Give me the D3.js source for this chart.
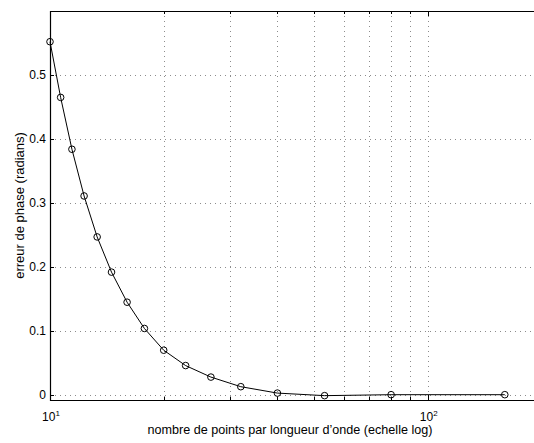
<!DOCTYPE html>
<html>
<head>
<meta charset="utf-8">
<script src="https://cdn.jsdelivr.net/npm/d3@7"></script>
<style>
    body { margin: 0; background: #fff; }
    text { font-family: "Liberation Sans", Arial, Helvetica, sans-serif; fill: #000; }
</style>
</head>
<body>
<div id="chart"></div>
<script>
// points par longueur d'onde / erreur de phase
const points_per_wavelength = [10, 10.67, 11.43, 12.31, 13.33, 14.55, 16, 17.78, 20, 22.86, 26.67, 32, 40, 53.33, 80, 160]
const phase_error = [0.552, 0.465, 0.384, 0.311, 0.247, 0.192, 0.145, 0.104, 0.070, 0.046, 0.028, 0.013, 0.003, -0.001, 0.0005, 0.0005]
const y_ticks = [0, 0.1, 0.2, 0.3, 0.4, 0.5]
const x_major_ticks = [10, 100]
const x_minor_ticks = [20, 30, 40, 50, 60, 70, 80, 90]
const x_label = "nombre de points par longueur d’onde (echelle log)"
const y_label = "erreur de phase (radians)"

const width = 534, height = 443
const plot_left = 50, plot_top = 11, plot_bottom = 400

const x = d3.scaleLog().domain([10, 200]).range([plot_left, plot_left + 1.30103 * 377.7])
const y = d3.scaleLinear().domain([-0.0078, 0.6]).range([plot_bottom, plot_top])
const plot_right = x.range()[1]

const svg = d3.select("#chart")
    .append("svg")
    .attr("width", width)
    .attr("height", height)

svg.append("rect").attr("width", width).attr("height", height).attr("fill", "#fff")

// grid, dotted like matlab
const grid = svg.append("g")
    .attr("stroke", "#8c8c8c")
    .attr("stroke-width", 1)
    .attr("stroke-dasharray", "1,4")
grid.selectAll(".vgrid")
    .data(x_minor_ticks.concat([100]))
    .enter()
    .append("line")
        .attr("x1", d => Math.round(x(d)) + 0.5)
        .attr("x2", d => Math.round(x(d)) + 0.5)
        .attr("y1", plot_top)
        .attr("y2", plot_bottom)
grid.selectAll(".hgrid")
    .data(y_ticks)
    .enter()
    .append("line")
        .attr("x1", plot_left)
        .attr("x2", plot_right)
        .attr("y1", d => Math.round(y(d)) + 0.5)
        .attr("y2", d => Math.round(y(d)) + 0.5)

// ticks pointing inward
const ticks = svg.append("g").attr("stroke", "#000").attr("stroke-width", 1)
x_minor_ticks.forEach(d => {
    let px = Math.round(x(d)) + 0.5
    ticks.append("line").attr("x1", px).attr("x2", px).attr("y1", plot_bottom).attr("y2", plot_bottom - 3)
    ticks.append("line").attr("x1", px).attr("x2", px).attr("y1", plot_top).attr("y2", plot_top + 3)
})
x_major_ticks.forEach(d => {
    let px = Math.round(x(d)) + 0.5
    ticks.append("line").attr("x1", px).attr("x2", px).attr("y1", plot_bottom).attr("y2", plot_bottom - 5)
    ticks.append("line").attr("x1", px).attr("x2", px).attr("y1", plot_top).attr("y2", plot_top + 5)
})
y_ticks.forEach(d => {
    let py = Math.round(y(d)) + 0.5
    ticks.append("line").attr("x1", plot_left).attr("x2", plot_left + 4).attr("y1", py).attr("y2", py)
})

// axes box (the right side is cut off)
svg.append("path")
    .attr("d", `M${plot_right},${plot_top + 0.5}H${plot_left + 0.5}V${plot_bottom + 0.5}H${plot_right}`)
    .attr("fill", "none")
    .attr("stroke", "#000")
    .attr("stroke-width", 1.2)

// tick labels
svg.selectAll(".ylab")
    .data(y_ticks)
    .enter()
    .append("text")
        .attr("x", plot_left - 4)
        .attr("y", d => y(d))
        .attr("dy", "0.36em")
        .attr("text-anchor", "end")
        .style("font-size", "12px")
        .text(d => d === 0 ? "0" : d.toFixed(1))

const xl = svg.selectAll(".xlab")
    .data(x_major_ticks)
    .enter()
    .append("text")
        .attr("x", d => x(d) + 1)
        .attr("y", 421)
        .attr("text-anchor", "middle")
        .style("font-size", "12px")
xl.append("tspan").text("10")
xl.append("tspan")
    .attr("dy", -5)
    .style("font-size", "8px")
    .text(d => Math.round(Math.log10(d)))

// axis titles
svg.append("text")
    .attr("x", 290)
    .attr("y", 434)
    .attr("text-anchor", "middle")
    .style("font-size", "12.6px")
    .text(x_label)

svg.append("text")
    .attr("transform", "translate(24," + ((plot_top + plot_bottom) / 2) + ") rotate(-90)")
    .attr("text-anchor", "middle")
    .style("font-size", "13px")
    .text(y_label)

// the curve and its markers
const data = points_per_wavelength.map((d, i) => ({ n: d, err: phase_error[i] }))

svg.append("path")
    .datum(data)
    .attr("fill", "none")
    .attr("stroke", "#000")
    .attr("stroke-width", 1)
    .attr("d", d3.line().x(d => x(d.n)).y(d => y(d.err)))

svg.selectAll(".marker")
    .data(data)
    .enter()
    .append("circle")
        .attr("cx", d => x(d.n))
        .attr("cy", d => y(d.err))
        .attr("r", 3.3)
        .attr("fill", "none")
        .attr("stroke", "#000")
        .attr("stroke-width", 1)
</script>
</body>
</html>
